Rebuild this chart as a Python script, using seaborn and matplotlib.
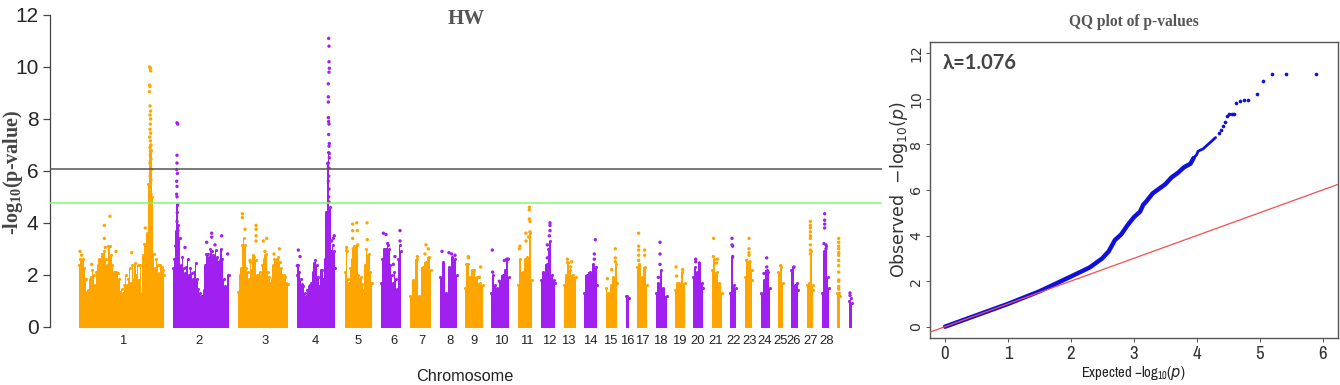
import matplotlib
matplotlib.use('Agg')
import matplotlib.pyplot as plt
import pandas as pd
import seaborn as sns

ORANGE = '#FFA500'
PURPLE = '#A020F0'

# manhattan body: top of the dense cloud, big chromosomes read every 4 position units
TOP_CHR1 = [2.37, 2.6, 2.55, 2.6, 2.25, 1.85, 1.35, 1.4, 1.85, 1.9, 2.2, 2.0, 1.6, 2.1, 2.37, 2.6, 2.55, 2.8, 2.8, 2.9, 2.6, 2.37, 3.1, 3.1, 2.75, 2.37, 2.1, 2.1, 2.1, 2.05, 1.85, 1.35, 1.45, 1.3, 1.6, 2.0, 1.6, 1.85, 2.25, 1.7, 2.37, 1.85, 2.45, 2.0, 2.37, 1.8, 2.37, 1.3, 2.75, 3.2, 3.2, 3.6, 5.5, 7.0, 6.8, 5.0, 2.8, 2.25, 2.6, 2.37, 2.05, 2.37, 2.3, 2.2, 2.0]
TOP_CHR2 = [2.25, 2.6, 3.7, 4.7, 3.9, 3.4, 2.37, 2.7, 2.25, 2.05, 2.3, 2.6, 2.0, 2.25, 2.05, 1.85, 2.1, 2.45, 1.85, 1.45, 1.3, 1.2, 1.2, 1.4, 2.37, 2.8, 2.8, 2.7, 3.0, 2.9, 2.75, 2.7, 2.95, 2.7, 2.5, 2.55, 3.0, 2.6, 1.85, 1.55, 1.5, 2.0, 2.0]
TOP_CHR3 = [1.35, 2.0, 2.25, 3.15, 3.4, 3.15, 2.25, 2.1, 1.85, 2.5, 2.2, 2.75, 2.7, 2.55, 2.0, 2.0, 2.1, 2.0, 2.37, 2.6, 2.75, 2.8, 2.1, 1.9, 1.7, 1.85, 2.37, 2.6, 2.55, 2.6, 2.7, 2.5, 2.25, 2.0, 2.0, 1.9, 1.7, 1.65]
TOP_CHR4 = [2.0, 2.37, 2.1, 1.85, 1.65, 1.55, 1.3, 1.2, 1.4, 1.55, 1.6, 1.7, 2.1, 2.45, 2.55, 2.37, 1.9, 1.55, 2.2, 2.2, 1.85, 2.6, 4.4, 6.3, 6.7, 4.6, 2.9, 3.15, 2.9, 2.25]
TOP_CHR5 = [2.1, 2.95, 1.85, 1.7, 2.25, 2.6, 3.0, 3.1, 3.1, 3.15, 2.0, 1.85, 1.9, 1.65, 1.4, 2.37, 3.0, 2.75, 2.8, 2.1, 1.7]
TOP_CHR6 = [1.7, 2.6, 3.0, 3.0, 3.0, 3.15, 3.0, 2.37, 2.0, 1.7, 2.1, 1.85, 1.45, 2.6, 3.15, 2.9]

CHR_POS = [
    list(range(237, 237 + 4 * len(TOP_CHR1), 4)),
    list(range(519, 519 + 4 * len(TOP_CHR2), 4)),
    list(range(715, 715 + 4 * len(TOP_CHR3), 4)),
    list(range(890, 890 + 4 * len(TOP_CHR4), 4)),
    list(range(1035, 1035 + 4 * len(TOP_CHR5), 4)),
    list(range(1143, 1143 + 4 * len(TOP_CHR6), 4)),
    [1231, 1240, 1250, 1258, 1268, 1278, 1286, 1293],
    [1320, 1329, 1338, 1347, 1356, 1365, 1371],
    [1395, 1398, 1405, 1410, 1415, 1422, 1430, 1440, 1448],
    [1473, 1478, 1485, 1492, 1500, 1508, 1515, 1522, 1527],
    [1554, 1560, 1568, 1575, 1582, 1590, 1596],
    [1622, 1630, 1640, 1645, 1650, 1655, 1662, 1666],
    [1691, 1697, 1702, 1710, 1718, 1727],
    [1752, 1760, 1770, 1780, 1787, 1792],
    [1818, 1825, 1832, 1840, 1847, 1852],
    [1877, 1882, 1886],
    [1912, 1918, 1925, 1935, 1942],
    [1968, 1975, 1982, 1988, 2000],
    [2024, 2030, 2038, 2045, 2054],
    [2080, 2086, 2092, 2098, 2105, 2110],
    [2136, 2142, 2150, 2158, 2165],
    [2191, 2197, 2202, 2208],
    [2235, 2242, 2248, 2255, 2257],
    [2284, 2292, 2300, 2305, 2310],
    [2335, 2342, 2348],
    [2374, 2380, 2385, 2390, 2395],
    [2421, 2428, 2433, 2438, 2440],
    [2466, 2472, 2478, 2483, 2487],
    [2512, 2518, 2521],
    [2547, 2552, 2555],
]
CHR_TOP = [
    TOP_CHR1, TOP_CHR2, TOP_CHR3, TOP_CHR4, TOP_CHR5, TOP_CHR6,
    [1.2, 1.8, 2.6, 1.2, 2.3, 2.5, 2.7, 2.2],
    [1.9, 2.5, 1.3, 2.3, 2.7, 2.6, 2.0],
    [1.5, 2.4, 2.4, 1.9, 2.2, 2.2, 1.9, 1.7, 1.6],
    [1.3, 2.0, 1.6, 1.5, 1.7, 2.0, 2.2, 2.6, 1.9],
    [1.6, 2.6, 2.1, 2.6, 2.7, 3.6, 1.8],
    [1.8, 2.1, 2.4, 3.0, 3.3, 2.0, 1.8, 1.7],
    [1.6, 2.0, 2.5, 2.2, 2.0, 1.9],
    [1.3, 2.0, 2.1, 2.4, 2.3, 1.6],
    [1.5, 1.3, 1.6, 1.9, 2.4, 1.7],
    [1.2, 1.2, 1.1],
    [2.3, 2.4, 1.9, 2.3, 1.6],
    [1.3, 1.7, 2.2, 1.5, 1.2],
    [1.4, 1.7, 1.7, 2.1, 1.7],
    [1.9, 2.3, 2.1, 2.4, 1.7, 1.5],
    [2.2, 2.6, 2.1, 1.7, 1.3],
    [1.3, 2.7, 1.6, 1.5],
    [1.9, 2.5, 2.5, 2.2, 1.8],
    [1.3, 1.8, 2.2, 2.1, 1.5],
    [2.1, 2.3, 1.7],
    [2.2, 2.3, 1.6, 1.7, 1.4],
    [1.6, 1.7, 2.9, 1.6, 1.4],
    [1.3, 2.9, 3.1, 1.9, 1.5],
    [1.3, 1.3, 1.2],
    [1.0, 1.1, 0.9],
]

# single snps standing clear of the cloud
SNP_CHR = [1] * 46 + [2] * 22 + [3] * 13 + [4] * 29 + [5] * 11 + [6] * 7 + [7] * 4 + [8] * 4 + [9] * 4 + [10] * 6 \
    + [11] * 10 + [12] * 6 + [13] * 4 + [14] * 3 + [15] * 5 + [17] * 7 + [18] * 4 + [19] * 3 + [20] * 3 + [21] * 4 \
    + [22] * 4 + [23] * 6 + [24] * 3 + [25] * 1 + [26] * 1 + [27] * 9 + [28] * 7 + [29] * 13 + [30] * 2
SNP_POS = [
    449, 451, 452, 449, 450, 448, 450, 452, 450, 452, 451, 450, 452, 449, 451, 453, 450, 452, 451, 453, 450, 452, 454, 451, 450, 453, 452, 451, 450, 453, 452, 454, 451, 450, 452, 449, 240, 245, 313, 313, 330, 316, 348, 395, 436, 275,
    531, 533, 531, 531, 530, 532, 530, 531, 530, 531, 533, 532, 531, 534, 527, 555, 635, 635, 620, 665, 683, 645,
    727, 727, 735, 768, 768, 768, 768, 790, 800, 795, 838, 822, 750,
    986, 987, 987, 988, 987, 985, 985, 985, 985, 986, 987, 986, 988, 987, 986, 988, 985, 987, 986, 985, 987, 986, 987, 895, 900, 1000, 1003, 995, 892,
    1040, 1058, 1058, 1058, 1070, 1072, 1060, 1073, 1101, 1102, 1042,
    1150, 1158, 1163, 1185, 1180, 1200, 1200,
    1252, 1278, 1285, 1275,
    1326, 1347, 1355, 1365,
    1405, 1405, 1442, 1438,
    1477, 1478, 1513, 1520, 1525, 1498,
    1588, 1588, 1588, 1590, 1578, 1590, 1560, 1558, 1578, 1586,
    1650, 1650, 1650, 1648, 1642, 1642,
    1702, 1705, 1715, 1712,
    1786, 1783, 1783,
    1822, 1835, 1846, 1846, 1846,
    1916, 1916, 1916, 1916, 1916, 1934, 1934,
    1980, 1980, 1980, 1975,
    2028, 2030, 2048,
    2087, 2087, 2098,
    2141, 2140, 2152, 2150,
    2196, 2196, 2198, 2198,
    2247, 2247, 2247, 2247, 2240, 2250,
    2300, 2300, 2292,
    2342,
    2382,
    2431, 2431, 2431, 2431, 2431, 2431, 2431, 2431, 2431,
    2474, 2474, 2474, 2474, 2472, 2478, 2478,
    2516, 2516, 2516, 2516, 2516, 2516, 2516, 2516, 2516, 2516, 2516, 2516, 2516,
    2550, 2550,
]
SNP_VAL = [
    10.0, 9.95, 9.85, 9.3, 9.25, 9.05, 8.5, 8.3, 8.15, 8.0, 7.8, 7.6, 7.45, 7.3, 7.15, 7.0, 6.9, 6.75, 6.6, 6.45, 6.3, 6.2, 6.05, 5.9, 5.8, 5.65, 5.5, 5.35, 5.25, 5.1, 4.95, 4.8, 4.65, 4.5, 4.3, 4.1, 2.9, 2.75, 3.9, 3.4, 4.25, 3.05, 2.9, 2.85, 3.8, 2.4,
    7.85, 7.8, 6.6, 6.3, 6.05, 5.9, 5.6, 5.4, 5.1, 5.0, 4.7, 4.4, 4.05, 3.7, 3.1, 3.05, 3.6, 3.45, 3.25, 3.5, 2.8, 3.15,
    4.35, 4.2, 3.75, 3.9, 3.75, 3.5, 3.3, 3.3, 3.4, 2.9, 3.0, 2.8, 2.55,
    11.1, 10.8, 10.2, 9.95, 9.8, 9.35, 8.85, 8.65, 8.05, 7.9, 7.8, 7.4, 7.05, 6.95, 6.7, 6.5, 6.3, 6.1, 5.8, 5.6, 5.3, 5.0, 4.8, 2.95, 2.7, 3.4, 3.5, 3.3, 2.35,
    3.05, 3.95, 3.7, 3.4, 4.0, 3.7, 3.0, 3.15, 4.0, 3.35, 2.9,
    3.6, 3.55, 3.2, 2.7, 2.4, 3.7, 3.3,
    2.7, 3.15, 3.0, 2.8,
    2.9, 2.85, 2.8, 2.75,
    2.7, 2.65, 2.3, 1.9,
    2.95, 2.1, 2.55, 2.6, 2.6, 1.75,
    4.6, 4.5, 4.15, 4.05, 3.6, 3.65, 3.1, 3.0, 3.3, 3.45,
    4.0, 3.9, 3.7, 3.5, 3.15, 2.65,
    2.6, 2.45, 2.5, 2.3,
    3.35, 2.8, 2.6,
    1.85, 2.2, 3.0, 2.65, 2.5,
    3.6, 3.1, 2.95, 2.75, 2.55, 2.95, 2.75,
    3.25, 2.8, 2.4, 1.9,
    2.3, 1.95, 2.2,
    2.6, 2.5, 2.45,
    3.4, 2.7, 2.6, 2.45,
    3.4, 3.15, 3.1, 2.7,
    3.4, 3.0, 2.85, 2.75, 2.55, 2.5,
    2.65, 2.3, 2.05,
    2.35,
    2.3,
    4.05, 3.9, 3.8, 3.65, 3.5, 3.4, 3.15, 2.95, 2.8,
    4.35, 4.1, 3.95, 3.8, 3.2, 3.15, 3.0,
    3.4, 3.25, 3.1, 3.0, 2.85, 2.75, 2.55, 2.35, 2.1, 1.8, 1.75, 1.55, 1.45,
    1.3, 1.2,
]

TICK_POS = [369, 597, 795, 947, 1073, 1181, 1267, 1350, 1422, 1503, 1580, 1647, 1706, 1772, 1830, 1883, 1928, 1980, 2037, 2094, 2147, 2202, 2248, 2293, 2342, 2382, 2433, 2480]
TICK_LABELS = [str(i) for i in range(1, 29)]
LINE_SUGGESTIVE = 4.77
LINE_GENOME = 6.06

# qq plot
QQ_EXP = [0, 0.5, 1, 1.5, 2, 2.3, 2.5, 2.6, 2.7, 2.8, 2.9, 3.0, 3.1, 3.15, 3.2, 3.3, 3.4, 3.5, 3.6, 3.7, 3.8, 3.9, 3.95]
QQ_OBS = [0, 0.5, 1.0, 1.55, 2.2, 2.6, 3.0, 3.3, 3.8, 4.05, 4.45, 4.8, 5.05, 5.35, 5.5, 5.85, 6.05, 6.25, 6.55, 6.75, 7.0, 7.15, 7.4]
UPPER_EXP = [3.95, 4.0, 4.02, 4.1, 4.2, 4.3]
UPPER_OBS = [7.4, 7.55, 7.7, 7.8, 8.05, 8.3]
TAIL_EXP = [4.35, 4.39, 4.42, 4.45, 4.48, 4.52, 4.56, 4.6, 4.62, 4.68, 4.75, 4.82, 4.96, 5.06, 5.2, 5.42, 5.9]
TAIL_OBS = [8.5, 8.65, 8.8, 9.0, 9.25, 9.33, 9.33, 9.35, 9.8, 9.9, 9.93, 9.93, 10.2, 10.8, 11.1, 11.1, 11.1]

W, H = 1340, 385
NARROW = ['Liberation Sans Narrow', 'Archivo Narrow', 'Liberation Sans', 'DejaVu Sans']


def px_axes(fig, left, top, right, bottom):
    return fig.add_axes([left / W, 1 - bottom / H, (right - left) / W, (bottom - top) / H])


def plot_manhattan(fig):
    ax = px_axes(fig, 49.5, 15, 882, 326.7)
    for i, (pos, top) in enumerate(zip(CHR_POS, CHR_TOP)):
        color = ORANGE if i % 2 == 0 else PURPLE
        ax.fill_between(pos, -0.05, top, color=color, linewidth=0, step='mid', clip_on=False)
        ax.scatter(pos, top, s=5, color=color, linewidth=0, clip_on=False)

    df = pd.DataFrame({'chrom': SNP_CHR, 'pos': SNP_POS, 'logp': SNP_VAL})
    df['odd'] = df['chrom'] % 2 == 1
    sns.scatterplot(data=df, x='pos', y='logp', hue='odd', palette={True: ORANGE, False: PURPLE},
                    s=6, linewidth=0, legend=False, ax=ax, clip_on=False)

    ax.axhline(LINE_GENOME, color='#555555', linewidth=1.1, zorder=5)
    ax.axhline(LINE_SUGGESTIVE, color='#7CFC6E', linewidth=1.1, zorder=5)

    ax.set_xlim(148.5, 2646)
    ax.set_ylim(0, 12)
    sns.despine(ax=ax, bottom=True)
    ax.spines['left'].set_color('#444444')
    ax.spines['left'].set_linewidth(0.9)
    ax.set_yticks([0, 2, 4, 6, 8, 10, 12])
    ax.tick_params(axis='y', labelsize=15, length=5, width=0.9, color='#444444', pad=3, left=True)
    ax.set_xticks(TICK_POS)
    ax.set_xticklabels(TICK_LABELS)
    ax.tick_params(axis='x', labelsize=9.4, length=0, pad=6, labelcolor='#222222')
    ax.set_xlabel('Chromosome', fontsize=11.7, color='#222222')
    ax.xaxis.set_label_coords(0.499, -0.136)
    ax.set_ylabel(r'-log$_{\mathregular{10}}$(p-value)', family='Liberation Serif', fontweight='bold',
                  fontsize=14.5, color='#444444')
    ax.yaxis.set_label_coords(-0.03, 0.496)
    ax.text(0.5, 0.987, 'HW', transform=ax.transAxes, ha='center', va='center', family='Liberation Serif',
            fontweight='bold', fontsize=15, color='#555555')


def plot_qq(fig):
    ax = px_axes(fig, 930, 42.3, 1337.7, 337.7)
    sns.lineplot(x=QQ_EXP, y=QQ_OBS, color='#1010DD', linewidth=3.2, estimator=None, ax=ax)
    sns.lineplot(x=UPPER_EXP, y=UPPER_OBS, color='#1010DD', linewidth=2, estimator=None, ax=ax)
    sns.scatterplot(x=TAIL_EXP, y=TAIL_OBS, color='#1010DD', s=7, linewidth=0, ax=ax)
    ax.axline((0, 0), slope=1, color='#F05050', linewidth=0.9, zorder=5)
    ax.set_xlim(-0.238, 6.24)
    ax.set_ylim(-0.483, 12.48)
    for s in ax.spines.values():
        s.set_color('#555555')
        s.set_linewidth(1)
    ax.set_xticks(range(7))
    ax.set_yticks(range(0, 13, 2))
    ax.tick_params(axis='x', length=3, width=0.7, pad=3, labelsize=13.5, color='#555555', labelcolor='#333333',
                   bottom=True)
    ax.tick_params(axis='y', length=3, width=0.7, pad=2, labelsize=10.2, color='#555555', labelcolor='#333333',
                   left=True)
    for t in ax.get_xticklabels():
        t.set_family(NARROW)
    for t in ax.get_yticklabels():
        t.set_rotation(90)
        t.set_va('center')
        t.set_family('DejaVu Sans')
    ax.set_xlabel(r'Expected $-$log$_{10}$($\mathit{p}$)', family=NARROW, fontsize=10.5, color='#222222')
    ax.xaxis.set_label_coords(0.499, -0.09)
    ax.set_ylabel(r'Observed  $-$log$_{10}$($\mathit{p}$)', family='DejaVu Sans', fontsize=12.5, color='#333333')
    ax.yaxis.set_label_coords(-0.049, 0.5)
    ax.text(0.032, 0.93, 'λ=1.076', transform=ax.transAxes, va='center', family=['Lato', 'Open Sans', 'DejaVu Sans'],
            fontweight='bold', fontsize=14.5, color='#444444')
    ax.text(0.499, 1.068, 'QQ plot of p-values', transform=ax.transAxes, ha='center', va='center',
            family='Liberation Serif', fontweight='bold', fontsize=11.2, color='#555555')


if __name__ == '__main__':
    sns.set_style('white')
    plt.rcParams['font.family'] = ['Liberation Sans', 'DejaVu Sans']
    plt.rcParams['mathtext.default'] = 'regular'
    fig = plt.figure(figsize=(W / 100, H / 100), dpi=100)
    plot_manhattan(fig)
    plot_qq(fig)
    fig.savefig('out.png', dpi=100)
    plt.close(fig)
